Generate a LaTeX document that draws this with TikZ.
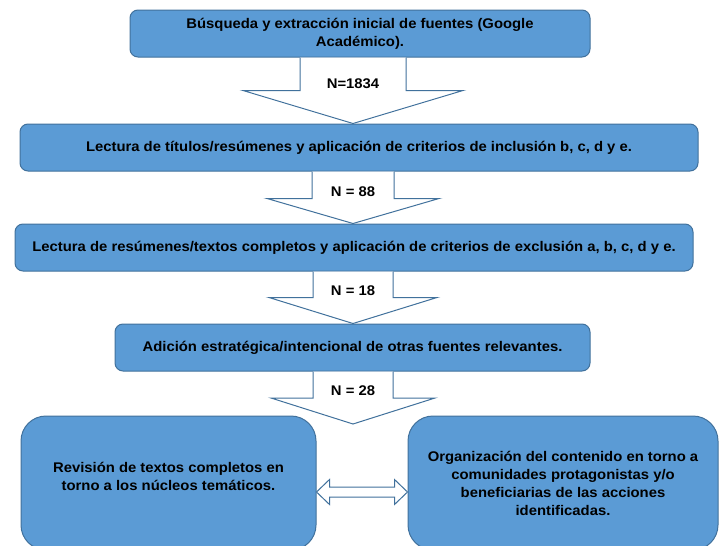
\documentclass[tikz,border=0pt]{standalone}
\usepackage{fontspec}
\setmainfont{Liberation Sans}[FakeStretch=1.06]
\usetikzlibrary{calc}

\definecolor{azul}{RGB}{91,155,213}
\definecolor{borde}{RGB}{65,113,156}

% flecha de bloque: caja de origen, punta, medio ancho del tronco, medio ancho de la punta, largo de la punta, texto
\newcommand{\flechabaja}[6]{%
  \draw[flecha] ($(#1.south -| eje)+(-#3,0)$) -- ($(#2)+(-#3,-#5)$) -- ($(#2)+(-#4,-#5)$) -- (#2)
    -- ($(#2)+(#4,-#5)$) -- ($(#2)+(#3,-#5)$) -- ($(#1.south -| eje)+(#3,0)$);
  \node[etiqueta] at ($(#2)+(0,-#5-7)$) {#6};
}

\begin{document}
\begin{tikzpicture}[x=1pt,y=-1pt,
  caja/.style={draw=borde,line width=1pt,fill=azul,rounded corners=8pt,align=center,
    minimum height=47pt,inner sep=2pt,font=\fontsize{14}{18}\selectfont\bfseries},
  cajagrande/.style={caja,rounded corners=25pt,minimum height=134pt},
  flecha/.style={draw=borde,line width=1pt,fill=white,line join=miter},
  etiqueta/.style={inner sep=0pt,font=\fontsize{14}{18}\selectfont\bfseries}]
\useasboundingbox (0,0) rectangle (723,546);

\coordinate (eje) at (353,0);

\node[caja,minimum width=460pt] (b1) at (360,33.5)
  {Búsqueda y extracción inicial de fuentes (Google\\Académico).};
\node[caja,minimum width=678pt] (b2) at (359,147.5)
  {Lectura de títulos/resúmenes y aplicación de criterios de inclusión b, c, d y e.};
\node[caja,minimum width=678pt] (b3) at (354,247.5)
  {Lectura de resúmenes/textos completos y aplicación de criterios de exclusión a, b, c, d y e.};
\node[caja,minimum width=475pt] (b4) at (352.5,347.5)
  {Adición estratégica/intencional de otras fuentes relevantes.};
\node[cajagrande,minimum width=295pt] (b5) at (168.5,483)
  {Revisión de textos completos en\\torno a los núcleos temáticos.\\[-5pt]};
\node[cajagrande,minimum width=310pt] (b6) at (563,483)
  {Organización del contenido en torno a\\comunidades protagonistas y/o\\beneficiarias de las acciones\\identificadas.};

\coordinate (t1) at (b2.north -| eje);
\coordinate (t2) at (b3.north -| eje);
\coordinate (t3) at (b4.north -| eje);
\coordinate (t4) at (353,424);

\flechabaja{b1}{t1}{53}{110}{33}{N=1834}
\flechabaja{b2}{t2}{41}{86}{25}{N = 88}
\flechabaja{b3}{t3}{40}{84}{26}{N = 18}
\flechabaja{b4}{t4}{40}{82}{26}{N = 28}

% flecha doble entre las cajas de abajo
\draw[flecha] ($(b5.east)+(0,9)$) -- ++(13,-12.5) -- ++(0,7.5) -- ($(b6.west)+(-13,4)$)
  -- ++(0,-7.5) -- ($(b6.west)+(0,9)$) -- ++(-13,12.5) -- ++(0,-7.5)
  -- ($(b5.east)+(13,14)$) -- ++(0,7.5) -- cycle;
\end{tikzpicture}
\end{document}
